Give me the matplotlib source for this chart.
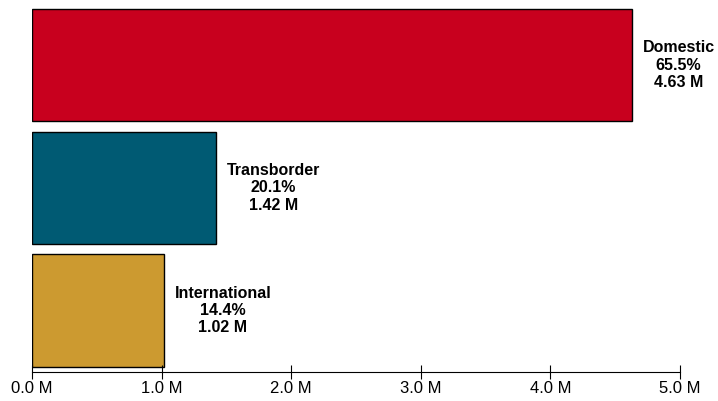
import matplotlib.pyplot as plt
from matplotlib.ticker import FuncFormatter

plt.rcParams['font.family'] = ['Liberation Sans', 'DejaVu Sans']

# data
categories = ["Domestic", "Transborder", "International"]
shares = [65.5, 20.1, 14.4]
passengers = [4.63, 1.42, 1.02]   # millions
colors = ["#C8001E", "#005A73", "#CC9A30"]

fig = plt.figure(figsize=(7.18, 4.01), dpi=100)
ax = fig.add_axes([0.0446, 0.073, 0.9025, 0.917])

ypos = list(range(len(categories)))
ax.barh(ypos, passengers, height=0.915, color=colors, edgecolor="black", linewidth=1)

for y, cat, s, v in zip(ypos, categories, shares, passengers):
    ax.annotate(f"{cat}\n{s}%\n{v:.2f} M", xy=(v, y), xytext=(7.5, 0),
                textcoords="offset points", ha="left", va="center",
                multialignment="center", fontsize=11.5, fontweight="bold",
                annotation_clip=False)

ax.set_xlim(0, 5)
ax.set_ylim(2.5, -0.5)
ax.set_xticks([0, 1, 2, 3, 4, 5])
ax.xaxis.set_major_formatter(FuncFormatter(lambda x, p: f"{x:.1f} M"))
ax.set_yticks([])
for side in ["top", "right", "left"]:
    ax.spines[side].set_visible(False)
ax.tick_params(axis="x", direction="inout", length=10, labelsize=12, pad=2)

fig.savefig("out.png", dpi=100)
